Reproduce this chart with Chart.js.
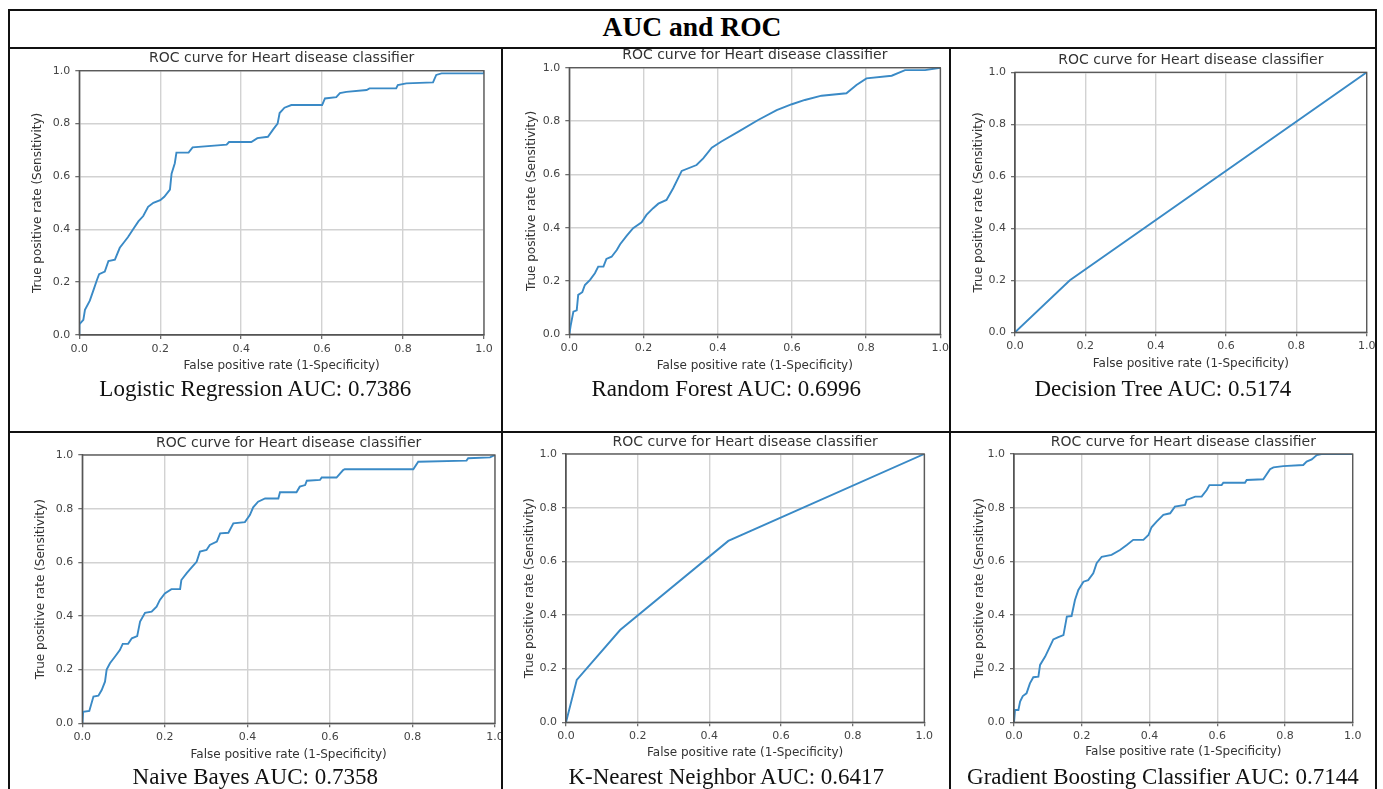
<!DOCTYPE html>
<html><head><meta charset="utf-8">
<script src="https://cdn.jsdelivr.net/npm/chart.js@4.4.1/dist/chart.umd.min.js"></script>
<style>
html,body{margin:0;padding:0;background:#fff;width:1383px;height:789px;overflow:hidden;position:relative;font-family:"Liberation Serif","Times New Roman",serif;}
.cell{position:absolute;overflow:hidden;}
.cell canvas{position:absolute;}
.cap{position:absolute;left:0;right:0;text-align:center;font-size:23px;color:#111;white-space:nowrap;line-height:1;}
.ln{position:absolute;background:#111;}
#title{position:absolute;left:9px;width:1366px;top:13px;line-height:1;text-align:center;font-weight:bold;font-size:27.5px;color:#000;}
</style></head><body>
<div id="title">AUC and ROC</div>
<div id="cells"></div>
<div id="lines"></div>
<script>
// ---- data ----
const models = ["Logistic Regression","Random Forest","Decision Tree","Naive Bayes","K-Nearest Neighbor","Gradient Boosting Classifier"];
const aucs = ["0.7386","0.6996","0.5174","0.7358","0.6417","0.7144"];
const tickValues = [0, 0.2, 0.4, 0.6, 0.8, 1.0];
const tickLabels = ["0.0","0.2","0.4","0.6","0.8","1.0"];

const lrFpr = [0,0,0.01,0.014,0.026,0.035,0.044,0.049,0.063,0.072,0.088,0.1,0.11,0.12,0.133,0.146,0.158,0.17,0.183,0.2,0.21,0.224,0.228,0.236,0.24,0.27,0.28,0.364,0.37,0.425,0.44,0.466,0.48,0.49,0.495,0.507,0.524,0.6,0.607,0.635,0.644,0.66,0.71,0.717,0.783,0.787,0.808,0.874,0.882,0.895,1.0,1.0];
const lrTpr = [0,0.04,0.057,0.095,0.13,0.17,0.21,0.23,0.24,0.28,0.285,0.33,0.35,0.37,0.40,0.43,0.45,0.485,0.50,0.51,0.523,0.55,0.61,0.65,0.69,0.69,0.71,0.72,0.73,0.73,0.745,0.75,0.78,0.80,0.84,0.86,0.87,0.87,0.895,0.90,0.915,0.92,0.927,0.933,0.933,0.946,0.952,0.956,0.984,0.99,0.99,1.0];

const rfFpr = [0,0.004,0.011,0.02,0.024,0.035,0.042,0.056,0.069,0.078,0.092,0.1,0.114,0.128,0.137,0.155,0.172,0.195,0.208,0.226,0.24,0.262,0.28,0.303,0.343,0.361,0.384,0.41,0.456,0.509,0.559,0.6,0.635,0.68,0.747,0.774,0.801,0.869,0.905,0.959,1.0];
const rfTpr = [0,0.035,0.085,0.09,0.148,0.158,0.185,0.204,0.229,0.254,0.254,0.283,0.291,0.316,0.338,0.37,0.398,0.42,0.448,0.473,0.49,0.504,0.548,0.613,0.635,0.66,0.70,0.723,0.76,0.804,0.841,0.863,0.879,0.895,0.904,0.935,0.96,0.97,0.991,0.991,1.0];

const dtFpr = [0, 0.156, 1];
const dtTpr = [0, 0.2, 1];

const nbFpr = [0,0.002,0.017,0.027,0.039,0.047,0.055,0.059,0.067,0.079,0.091,0.098,0.111,0.12,0.133,0.14,0.152,0.168,0.18,0.188,0.2,0.216,0.237,0.24,0.253,0.265,0.277,0.285,0.301,0.309,0.326,0.334,0.354,0.366,0.394,0.406,0.414,0.426,0.443,0.475,0.479,0.519,0.527,0.54,0.544,0.576,0.58,0.616,0.632,0.636,0.802,0.814,0.931,0.935,0.988,1.0];
const nbTpr = [0,0.043,0.046,0.10,0.103,0.124,0.155,0.2,0.224,0.248,0.273,0.296,0.296,0.317,0.325,0.379,0.412,0.416,0.435,0.46,0.484,0.5,0.5,0.534,0.56,0.581,0.602,0.64,0.646,0.665,0.677,0.708,0.71,0.745,0.75,0.776,0.805,0.826,0.838,0.838,0.861,0.861,0.882,0.888,0.904,0.907,0.916,0.916,0.944,0.947,0.947,0.975,0.979,0.988,0.991,1.0];

const knnFpr = [0, 0.03, 0.151, 0.453, 1];
const knnTpr = [0, 0.158, 0.344, 0.676, 1];

const gbFpr = [0,0.003,0.013,0.018,0.026,0.037,0.047,0.057,0.072,0.077,0.092,0.106,0.116,0.131,0.146,0.156,0.17,0.18,0.19,0.205,0.219,0.234,0.244,0.259,0.288,0.313,0.333,0.352,0.382,0.397,0.406,0.421,0.441,0.461,0.475,0.505,0.51,0.535,0.554,0.569,0.577,0.613,0.618,0.682,0.687,0.736,0.756,0.766,0.795,0.854,0.864,0.879,0.894,0.908,1.0];
const gbTpr = [0,0.046,0.046,0.077,0.098,0.108,0.145,0.168,0.17,0.214,0.245,0.282,0.309,0.317,0.325,0.394,0.396,0.456,0.493,0.524,0.53,0.555,0.593,0.617,0.624,0.642,0.661,0.68,0.68,0.698,0.727,0.748,0.773,0.779,0.804,0.81,0.829,0.841,0.841,0.866,0.884,0.884,0.893,0.893,0.903,0.906,0.943,0.95,0.955,0.959,0.972,0.98,0.996,1.0,1.0];

const series = [[lrFpr,lrTpr],[rfFpr,rfTpr],[dtFpr,dtTpr],[nbFpr,nbTpr],[knnFpr,knnTpr],[gbFpr,gbTpr]];

// ---- layout ----
const cells = [
  {x:9, y:49.3, w:492.5, h:381.2, capTop:377.5},
  {x:503.5, y:49.3, w:445.5, h:381.2, capTop:377.5},
  {x:951, y:49.3, w:423.7, h:381.2, capTop:377.5},
  {x:9, y:432.5, w:492.5, h:357, capTop:764.5},
  {x:503.5, y:432.5, w:445.5, h:357, capTop:764.5},
  {x:951, y:432.5, w:423.7, h:357, capTop:764.5}
];
const plots = [
  {l:79.3, t:70.7, r:484, b:335, yd:41, xd:31},
  {l:569.3, t:67.7, r:940.3, b:334.3, yd:37, xd:32},
  {l:1015, t:72.3, r:1366.7, b:332.3, yd:36, xd:32},
  {l:82.3, t:455, r:495, b:723.3, yd:41.5, xd:32},
  {l:566, t:454, r:924.3, b:722.3, yd:36, xd:31},
  {l:1014, t:454, r:1352.7, b:722.3, yd:34, xd:30}
];
const lines = [
  {x:8, y:9, w:1369, h:2},      // top
  {x:7.5, y:9, w:2, h:790},     // left
  {x:1374.7, y:9, w:2, h:790},  // right
  {x:8, y:47.4, w:1369, h:2},   // under title
  {x:501.4, y:47.4, w:2, h:750},
  {x:949, y:47.4, w:2, h:750},
  {x:8, y:430.5, w:1369, h:2}
];

const LINE = '#3a8ac6';
const FONT = "'DejaVu Sans', sans-serif";
const YW = 60, XH = 45, TFS = 14, TPB = 3.6, TKS = 11;
const TITLE_H = TFS * 1.2 + TPB;

const boxPlugin = {
  id: 'box',
  afterDatasetsDraw(chart) {
    const {ctx, chartArea: a} = chart;
    ctx.save();
    ctx.strokeStyle = '#555';
    ctx.lineWidth = 1.3;
    ctx.strokeRect(a.left, a.top, a.right - a.left, a.bottom - a.top);
    ctx.restore();
  }
};

const cellsDiv = document.getElementById('cells');
lines.forEach(L => {
  const d = document.createElement('div');
  d.className = 'ln';
  d.style.cssText = `left:${L.x}px;top:${L.y}px;width:${L.w}px;height:${L.h}px;`;
  document.getElementById('lines').appendChild(d);
});

models.forEach((name, i) => {
  const c = cells[i], p = plots[i];
  const cell = document.createElement('div');
  cell.className = 'cell';
  cell.style.cssText = `left:${c.x}px;top:${c.y}px;width:${c.w}px;height:${c.h}px;`;
  cellsDiv.appendChild(cell);

  const cl = Math.floor(p.l - YW - 2), padL = p.l - YW - cl;
  const ct = Math.floor(p.t - TITLE_H - 2), padT = p.t - TITLE_H - ct;
  const cr = Math.ceil(p.r + 22), padR = cr - p.r;
  const cb = Math.ceil(p.b + XH + 1), padB = cb - p.b - XH;

  const cv = document.createElement('canvas');
  cv.width = cr - cl; cv.height = cb - ct;
  cv.style.left = (cl - c.x) + 'px';
  cv.style.top = (ct - c.y) + 'px';
  cv.style.width = (cr - cl) + 'px';
  cv.style.height = (cb - ct) + 'px';
  cell.appendChild(cv);

  const cap = document.createElement('div');
  cap.className = 'cap';
  cap.style.top = (c.capTop - c.y) + 'px';
  cap.textContent = name + ' AUC: ' + aucs[i];
  cell.appendChild(cap);

  const [fx, ty] = series[i];
  const pts = fx.map((x, k) => ({x: x, y: ty[k]}));

  const tickOpts = (pad) => ({
    callback: (v, k) => tickLabels[k],
    font: {family: FONT, size: TKS, lineHeight: 1.2},
    color: '#444',
    padding: pad,
    maxRotation: 0,
    autoSkip: false
  });
  const gridOpts = {color: '#d2d2d2', lineWidth: 1.4, tickColor: '#555', tickLength: 4, tickWidth: 1.1};
  const borderOpts = {display: true, color: '#555', width: 1.3};
  const setTicks = s => { s.ticks = tickValues.map(v => ({value: v})); };

  new Chart(cv, {
    type: 'scatter',
    data: {datasets: [{
      data: pts, showLine: true, borderColor: LINE, backgroundColor: LINE,
      borderWidth: 1.9, pointRadius: 0, pointHoverRadius: 0, tension: 0, fill: false
    }]},
    options: {
      responsive: false, animation: false, events: [],
      layout: {padding: {left: padL, top: padT, right: padR, bottom: padB}},
      plugins: {
        legend: {display: false},
        tooltip: {enabled: false},
        title: {
          display: true, text: 'ROC curve for Heart disease classifier', fullSize: false,
          font: {family: FONT, size: TFS, weight: 'normal', lineHeight: 1.2},
          color: '#333', padding: {top: 0, bottom: TPB}
        }
      },
      scales: {
        x: {
          type: 'linear', min: 0, max: 1,
          afterBuildTicks: setTicks,
          afterFit: s => { s.height = XH; },
          ticks: tickOpts(14 - 4 - TKS * 0.6),
          grid: gridOpts, border: borderOpts,
          title: {display: true, text: 'False positive rate (1-Specificity)',
            font: {family: FONT, size: 12, lineHeight: 1.2}, color: '#333',
            padding: {top: 0, bottom: XH - p.xd - 7.2}}
        },
        y: {
          type: 'linear', min: 0, max: 1,
          afterBuildTicks: setTicks,
          afterFit: s => { s.width = YW; },
          ticks: tickOpts(5),
          grid: gridOpts, border: borderOpts,
          title: {display: true, text: 'True positive rate (Sensitivity)',
            font: {family: FONT, size: 12, lineHeight: 1.2}, color: '#333',
            padding: {top: YW - p.yd - 7.2, bottom: 0}}
        }
      }
    },
    plugins: [boxPlugin]
  });
});
</script>
</body></html>
